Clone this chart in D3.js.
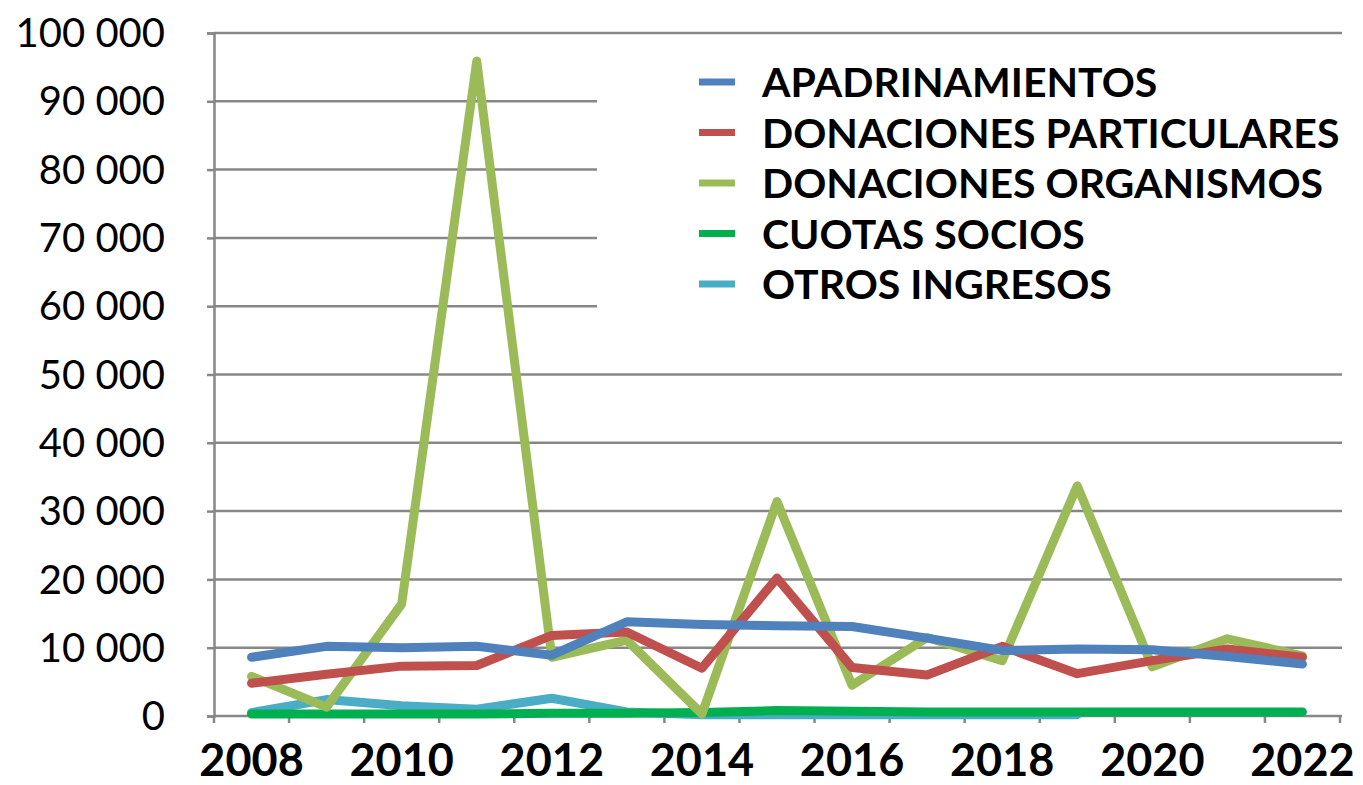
<!DOCTYPE html>
<html>
<head>
<meta charset="utf-8">
<script src="https://cdn.jsdelivr.net/npm/d3@7"></script>
<style>
  html, body { margin: 0; padding: 0; background: #fff; }
  svg { display: block; }
</style>
</head>
<body>
<svg id="chart" width="1363" height="785"></svg>
<script>
// ---- data ----
const years = [2008, 2009, 2010, 2011, 2012, 2013, 2014, 2015, 2016, 2017, 2018, 2019, 2020, 2021, 2022];
const seriesNames = ["APADRINAMIENTOS", "DONACIONES PARTICULARES", "DONACIONES ORGANISMOS", "CUOTAS SOCIOS", "OTROS INGRESOS"];
const seriesColors = ["#4F81BD", "#C0504D", "#9BBB59", "#00B050", "#4BACC6"];
const apadrinamientos = [8600, 10200, 10000, 10200, 8900, 13800, 13400, 13200, 13100, 11400, 9600, 9800, 9700, 8700, 7600];
const donacionesParticulares = [4800, 6100, 7300, 7400, 11800, 12300, 7000, 20200, 7100, 6000, 10200, 6200, 8100, 9800, 8600];
const donacionesOrganismos = [5800, 1300, 16400, 95900, 8600, 11100, 300, 31400, 4500, 11500, 8100, 33700, 7200, 11300, 8800];
const cuotasSocios = [300, 300, 300, 300, 400, 400, 500, 800, 700, 600, 600, 600, 600, 600, 600];
const otrosIngresos = [500, 2400, 1500, 1000, 2600, 600, 200, 200, 200, 200, 200, 200, null, null, null];
const yTicks = [0, 10000, 20000, 30000, 40000, 50000, 60000, 70000, 80000, 90000, 100000];
const xLabelYears = [2008, 2010, 2012, 2014, 2016, 2018, 2020, 2022];

const seriesValues = [apadrinamientos, donacionesParticulares, donacionesOrganismos, cuotasSocios, otrosIngresos];

// ---- scales ----
const svg = d3.select("#chart");
const x = d3.scaleBand().domain(years).range([214, 1340]).paddingInner(0).paddingOuter(0);
const y = d3.scaleLinear().domain([0, 100000]).range([716, 33]);
const cx = d => x(d) + x.bandwidth() / 2;
const fmt = d3.formatLocale({ decimal: ",", thousands: " ", grouping: [3], currency: ["", ""] }).format(",d");
const gridColor = "#878787";

// gridlines
svg.append("g").selectAll("line").data(yTicks.filter(d => d > 0)).join("line")
  .attr("x1", 214).attr("x2", 1342)
  .attr("y1", d => y(d)).attr("y2", d => y(d))
  .attr("stroke", gridColor).attr("stroke-width", 2.5);

// y axis
const yAxis = svg.append("g").attr("transform", "translate(214,0)")
  .call(d3.axisLeft(y).tickValues(yTicks).tickSize(7).tickFormat(fmt));
yAxis.select(".domain").attr("stroke", gridColor).attr("stroke-width", 2.5);
yAxis.selectAll(".tick line").attr("stroke", gridColor).attr("stroke-width", 2.5);
yAxis.selectAll(".tick text")
  .attr("x", -49).attr("dy", "0.34em")
  .attr("font-family", "Lato").attr("font-size", 40).attr("fill", "#000");

// x axis line and ticks at category boundaries
const bounds = years.map(d => x(d)).concat([x.range()[1]]);
svg.append("line").attr("x1", 214).attr("x2", 1342).attr("y1", y(0)).attr("y2", y(0))
  .attr("stroke", gridColor).attr("stroke-width", 2.5);
svg.append("g").selectAll("line").data(bounds).join("line")
  .attr("x1", d => d).attr("x2", d => d).attr("y1", y(0)).attr("y2", y(0) + 7)
  .attr("stroke", gridColor).attr("stroke-width", 2.5);
svg.append("g").selectAll("text").data(xLabelYears).join("text")
  .attr("x", d => cx(d)).attr("y", 776)
  .attr("text-anchor", "middle")
  .attr("font-family", "Lato").attr("font-weight", "bold").attr("font-size", 45).attr("fill", "#000")
  .text(d => d);

// legend background (covers gridlines)
svg.append("rect").attr("x", 597).attr("y", 40).attr("width", 766).attr("height", 300).attr("fill", "#fff");

// lines (drawn in reverse so first series is on top)
const line = d3.line().defined(d => d.v !== null).x(d => cx(d.year)).y(d => y(d.v));
const order = [4, 3, 2, 1, 0];
order.forEach(i => {
  const data = years.map((yr, k) => ({ year: yr, v: seriesValues[i][k] }));
  svg.append("path").datum(data)
    .attr("d", line)
    .attr("fill", "none")
    .attr("stroke", seriesColors[i])
    .attr("stroke-width", 9)
    .attr("stroke-linejoin", "round")
    .attr("stroke-linecap", "round");
});

// legend
const lg = svg.append("g");
seriesNames.forEach((name, i) => {
  const yy = 82 + i * 50.5;
  lg.append("line").attr("x1", 699).attr("x2", 735).attr("y1", yy).attr("y2", yy)
    .attr("stroke", seriesColors[i]).attr("stroke-width", 7);
  lg.append("text").attr("x", 762).attr("y", yy + 15)
    .attr("font-family", "Lato").attr("font-weight", "bold").attr("font-size", 41).attr("fill", "#000")
    .text(name);
});
</script>
</body>
</html>
